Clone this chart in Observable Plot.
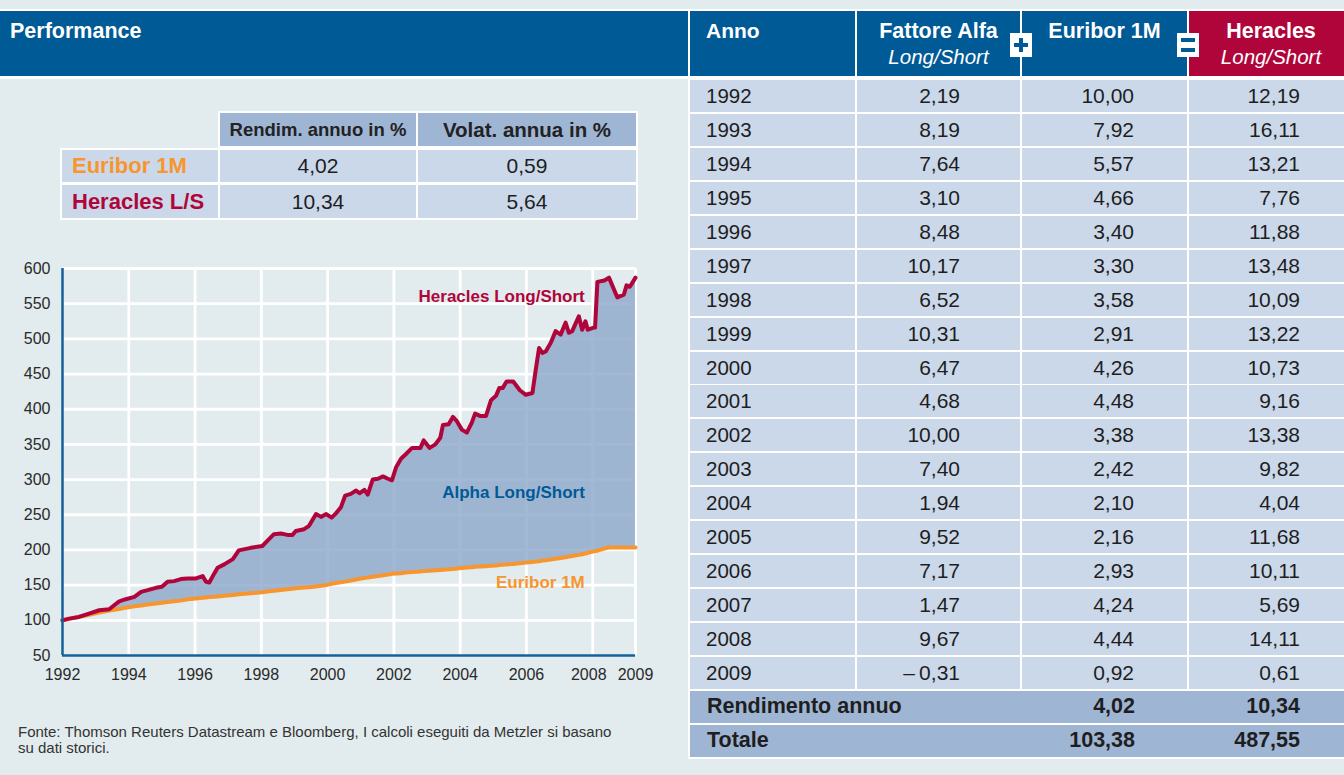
<!DOCTYPE html>
<html>
<head>
<meta charset="utf-8">
<script src="https://cdn.jsdelivr.net/npm/d3@7"></script>
<script src="https://cdn.jsdelivr.net/npm/@observablehq/plot@0.6"></script>
<style>
  html, body { margin: 0; padding: 0; }
  body { width: 1344px; height: 775px; background: #e2ebed; overflow: hidden; position: relative;
         font-family: "Liberation Sans", Arial, Helvetica, sans-serif; color: #1e1e1e; }
  .cell { position: absolute; box-sizing: border-box; display: flex; align-items: center; white-space: nowrap; }
  #chart { position: absolute; left: 0; top: 255px; }
</style>
</head>
<body>
<div id="root"></div>
<div id="chart"></div>
<script>
// ---------- chart data ----------
const years = [1992.00,1992.20,1992.50,1992.80,1993.11,1993.41,1993.56,1993.71,1993.91,1994.17,1994.37,1994.57,1994.82,1995.00,1995.17,1995.37,1995.57,1995.78,1996.03,1996.23,1996.33,1996.43,1996.58,1996.68,1996.88,1997.14,1997.32,1997.68,1998.03,1998.18,1998.38,1998.59,1998.79,1998.94,1999.04,1999.29,1999.44,1999.65,1999.80,1999.96,2000.12,2000.25,2000.40,2000.53,2000.70,2000.86,2000.96,2001.11,2001.21,2001.36,2001.52,2001.67,2001.82,2001.94,2002.07,2002.22,2002.35,2002.55,2002.80,2002.90,2003.08,2003.25,2003.40,2003.48,2003.65,2003.78,2003.90,2004.05,2004.20,2004.35,2004.45,2004.60,2004.78,2004.93,2005.08,2005.18,2005.28,2005.40,2005.60,2005.80,2005.98,2006.18,2006.28,2006.38,2006.48,2006.58,2006.73,2006.88,2007.03,2007.18,2007.28,2007.38,2007.58,2007.68,2007.78,2007.85,2008.03,2008.07,2008.14,2008.35,2008.49,2008.74,2008.94,2009.02,2009.12,2009.29];
const heracles = [100,102.4,104.8,109.5,114.3,115.7,121.4,127,130,133.3,140.5,142.9,146.2,147.6,154.8,155.7,158.6,159.5,159.5,162.9,154.8,153.8,166.7,174.8,179.5,187,199.4,203,205.6,212.8,222.4,223.3,221.4,221.4,227,229.5,234.3,251,247,251,246,252,260.6,277.3,279.7,284.4,280.6,285.4,278.7,300,301.2,304.5,301.2,299,318,330,335.7,345,345,355.7,345,350,359.5,377.6,378.6,389,383,371,366.7,381,393.8,390.5,390.5,412.9,419,430,430,439.5,439.5,427,420.5,423,456,487,480,482,494,511,506,523,508.6,511,532,513,525,513,516,516,581,583,587,559,563,576,574,587];
const euribor = [100,102,105,108,111,114,115,116,118,120,121,122.5,124,125,126,127,128,130,131,132,132.5,133,133.5,134,135,136,137,138.5,140,141,142,143,144,145,145.5,146.5,147,148,149,150,152,153,154,155,156.5,158,159,160,161,162,163,164,165,166,166.5,167,168,168.5,169.5,170,170.5,171,171.5,172,172.5,173,173.5,174.5,175,175.5,176,176.5,177,177.5,178,178.5,179,179.5,180,181,182,183,183.5,184,185,185.5,186.5,187.5,188.5,189.5,190.5,191.5,193,194,195,196,198,198.5,199,202,203.5,203.5,203.5,203.5,203.5,203.5];
const yTicks = [50,100,150,200,250,300,350,400,450,500,550,600];
const xTicks = [1992,1994,1996,1998,2000,2002,2004,2006,2008];
const xEnd = 2009.29;
const xEndLabel = "2009";
const seriesLabels = ["Heracles Long/Short", "Alpha Long/Short", "Euribor 1M"];
const seriesLabelY = [560, 282, 154];
const seriesLabelX = 2007.76;

// ---------- table data ----------
const tblYears = ["1992","1993","1994","1995","1996","1997","1998","1999","2000","2001","2002","2003","2004","2005","2006","2007","2008","2009"];
const tblAlfa = ["2,19","8,19","7,64","3,10","8,48","10,17","6,52","10,31","6,47","4,68","10,00","7,40","1,94","9,52","7,17","1,47","9,67","\u2013\u20090,31"];
const tblEuribor = ["10,00","7,92","5,57","4,66","3,40","3,30","3,58","2,91","4,26","4,48","3,38","2,42","2,10","2,16","2,93","4,24","4,44","0,92"];
const tblHeracles = ["12,19","16,11","13,21","7,76","11,88","13,48","10,09","13,22","10,73","9,16","13,38","9,82","4,04","11,68","10,11","5,69","14,11","0,61"];
const summaryLabels = ["Rendimento annuo", "Totale"];
const summaryEuribor = ["4,02", "103,38"];
const summaryHeracles = ["10,34", "487,55"];
const smallHeaders = ["Rendim. annuo in %", "Volat. annua in %"];
const smallRows = ["Euribor 1M", "Heracles L/S"];
const smallRendim = ["4,02", "10,34"];
const smallVolat = ["0,59", "5,64"];

const BLUE = "#005a96", CRIMSON = "#b0053a", ORANGE = "#f7952e";
const LIGHT = "#cbd8ea", DARK = "#9fb5d4";

const root = document.getElementById("root");
function box(x, y, w, h, css, html) {
  const d = document.createElement("div");
  d.className = "cell";
  d.style.left = x + "px"; d.style.top = y + "px"; d.style.width = w + "px"; d.style.height = h + "px";
  Object.assign(d.style, css || {});
  if (html != null) d.innerHTML = html;
  root.appendChild(d);
  return d;
}

// white frames
box(0, 9, 1344, 2, {background: "#fff"});
box(0, 76, 690, 3, {background: "#fff"});
box(688, 9, 656, 750, {background: "#fff"});

// left header
box(0, 11, 688, 65, {background: BLUE, color: "#fff", fontWeight: "bold", fontSize: "21.5px", alignItems: "flex-start", paddingLeft: "10px", paddingTop: "8px"}, "Performance");

// right table columns
const cols = [[690, 855], [857, 1020], [1022, 1187], [1189, 1344]];
const hdrTop = 11, hdrH = 65;
box(cols[0][0], hdrTop, cols[0][1]-cols[0][0], hdrH, {background: BLUE, color: "#fff", fontWeight: "bold", fontSize: "21px", alignItems: "flex-start", paddingLeft: "16px", paddingTop: "8px"}, "Anno");
function hdr2(c, bg, l1, l2, cx) {
  const d = box(c[0], hdrTop, c[1]-c[0], hdrH, {background: bg, color: "#fff", flexDirection: "column", alignItems: "center", justifyContent: "flex-start", paddingTop: "8px", lineHeight: "25px"});
  if (cx) { d.style.width = (2*(cx - c[0])) + "px"; }
  d.innerHTML = `<div style="font-weight:bold;font-size:21.5px">${l1}</div>` + (l2 ? `<div style="font-style:italic;font-size:20.5px;font-weight:300">${l2}</div>` : "");
}
hdr2(cols[1], BLUE, "Fattore Alfa", "Long/Short");
hdr2(cols[2], BLUE, "Euribor 1M", "");
hdr2(cols[3], CRIMSON, "Heracles", "Long/Short", 1271);
// plus / equals signs
function sign(cx, isPlus) {
  box(cx - 11, 33, 22, 24, {background: "#fff"});
  if (isPlus) {
    box(cx - 7, 43, 14, 4, {background: BLUE});
    box(cx - 2, 38, 4, 14, {background: BLUE});
  } else {
    box(cx - 7, 38, 14, 4, {background: BLUE});
    box(cx - 7, 48, 14, 4, {background: BLUE});
  }
}
sign(1021, true);
sign(1188, false);

// data rows
const rowTop = i => 80 + i * 33.94;
const numCss = {fontSize: "21px", color: "#1e1e1e", justifyContent: "flex-end"};
tblYears.forEach((yr, i) => {
  const t = rowTop(i), h = 32;
  box(cols[0][0], t, cols[0][1]-cols[0][0], h, {background: LIGHT, fontSize: "20.5px", paddingLeft: "16px"}, yr);
  box(cols[1][0], t, cols[1][1]-cols[1][0], h, Object.assign({background: LIGHT, paddingRight: "60px"}, numCss), tblAlfa[i]);
  box(cols[2][0], t, cols[2][1]-cols[2][0], h, Object.assign({background: LIGHT, paddingRight: "53px"}, numCss), tblEuribor[i]);
  box(cols[3][0], t, cols[3][1]-cols[3][0], h, Object.assign({background: LIGHT, paddingRight: "44px"}, numCss), tblHeracles[i]);
});
summaryLabels.forEach((lab, k) => {
  const t = rowTop(18 + k), h = 32;
  box(690, t, 654, h, {background: DARK, fontSize: "21.5px", fontWeight: "bold", paddingLeft: "17px"}, lab);
  box(cols[2][0], t, cols[2][1]-cols[2][0], h, Object.assign({paddingRight: "52px", fontWeight: "bold"}, numCss, {fontSize: "21.5px"}), summaryEuribor[k]);
  box(cols[3][0], t, cols[3][1]-cols[3][0], h, Object.assign({paddingRight: "44px", fontWeight: "bold"}, numCss, {fontSize: "21.5px"}), summaryHeracles[k]);
});

// small summary table
box(218, 111, 420, 37, {background: "#fff"});
box(60, 148, 578, 72, {background: "#fff"});
const sc = [[62, 218], [220, 416], [418, 636]];
const sr = [[150, 182], [185, 218]];
smallHeaders.forEach((h, j) => {
  box(sc[j+1][0], 113, sc[j+1][1]-sc[j+1][0], 33, {background: DARK, fontWeight: "bold", fontSize: j === 0 ? "18.5px" : "20.5px", justifyContent: "center", color: "#222"}, h);
});
smallRows.forEach((lab, i) => {
  const [t, b] = sr[i];
  box(sc[0][0], t, sc[0][1]-sc[0][0], b-t, {background: LIGHT, fontWeight: "bold", fontSize: "22px", paddingLeft: "10px", color: i === 0 ? ORANGE : CRIMSON}, lab);
  box(sc[1][0], t, sc[1][1]-sc[1][0], b-t, {background: LIGHT, fontSize: "21px", justifyContent: "center"}, smallRendim[i]);
  box(sc[2][0], t, sc[2][1]-sc[2][0], b-t, {background: LIGHT, fontSize: "21px", justifyContent: "center"}, smallVolat[i]);
});

// source note
box(18, 724, 660, 34, {fontSize: "15px", color: "#333", whiteSpace: "normal", lineHeight: "16px", display: "block"},
  "Fonte: Thomson Reuters Datastream e Bloomberg, I calcoli eseguiti da Metzler si basano<br>su dati storici.");

// ---------- chart ----------
const rows = years.map((x, i) => ({x, her: heracles[i], eur: euribor[i]}));
const labelData = seriesLabels.map((t, i) => ({t, x: seriesLabelX, y: seriesLabelY[i]}));
const AXIS = "#16609a";
const chart = Plot.plot({
  width: 660, height: 440,
  marginLeft: 62, marginRight: 25, marginTop: 13, marginBottom: 40,
  style: {background: "transparent", fontFamily: "Liberation Sans, Arial, sans-serif", fontSize: "16px", color: "#2a2a2a", overflow: "visible"},
  x: {domain: [1992, xEnd]},
  y: {domain: [50, 600]},
  marks: [
    Plot.gridX([...xTicks.slice(1), xEnd], {stroke: "#fff", strokeOpacity: 1, strokeWidth: 2.8}),
    Plot.gridY(yTicks.slice(1), {stroke: "#fff", strokeOpacity: 1, strokeWidth: 2.8}),
    Plot.areaY(rows, {x: "x", y1: "eur", y2: "her", fill: "#8fa8cc", fillOpacity: 0.82}),
    Plot.line(rows, {x: "x", y: "eur", stroke: ORANGE, strokeWidth: 4}),
    Plot.line(rows, {x: "x", y: "her", stroke: CRIMSON, strokeWidth: 4}),
    Plot.ruleX([1992], {stroke: AXIS, strokeWidth: 2.5}),
    Plot.ruleY([50], {stroke: AXIS, strokeWidth: 2.5}),
    Plot.axisY({ticks: yTicks, tickSize: 0, tickPadding: 12, label: null}),
    Plot.axisX({ticks: xTicks.slice(0, -1), tickSize: 0, tickPadding: 13, tickFormat: d => String(d), label: null}),
    Plot.axisX({ticks: [2008], tickSize: 0, tickPadding: 13, tickFormat: d => String(d), label: null, dx: -4}),
    Plot.axisX({ticks: [xEnd], tickSize: 0, tickPadding: 13, tickFormat: () => xEndLabel, label: null}),
    Plot.text(labelData, {x: "x", y: "y", text: "t", textAnchor: "end", fontWeight: "bold", fontSize: 17,
      fill: (d) => d.t.startsWith("Heracles") ? CRIMSON : d.t.startsWith("Alpha") ? BLUE : ORANGE})
  ]
});
document.getElementById("chart").appendChild(chart);
</script>
</body>
</html>
